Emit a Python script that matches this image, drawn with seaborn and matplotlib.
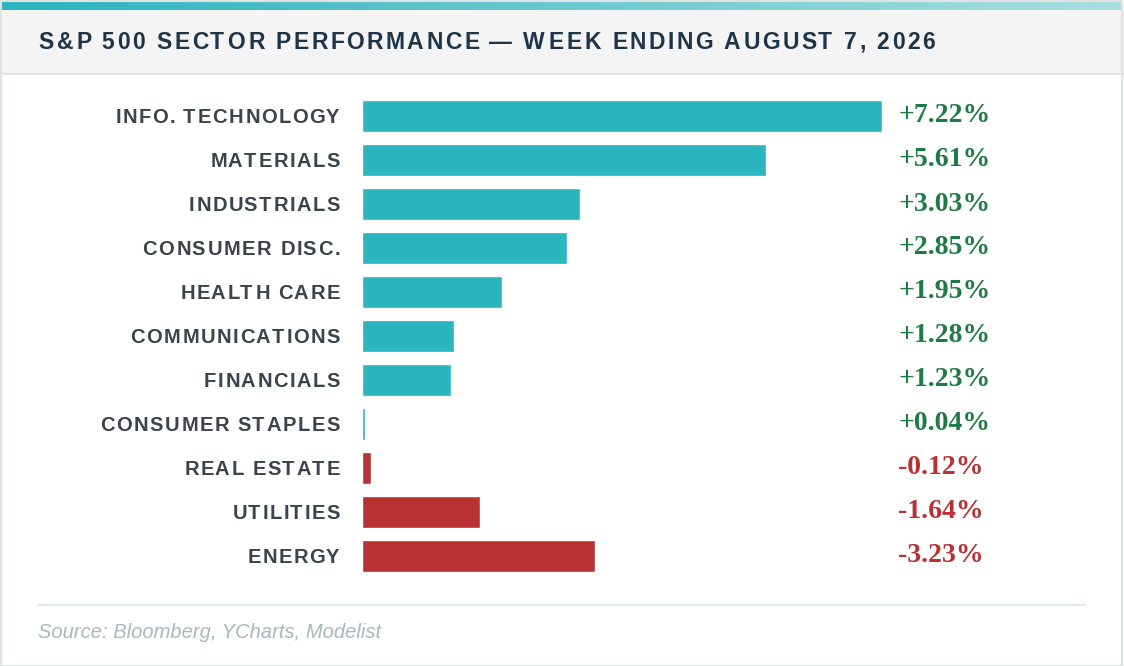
import matplotlib
matplotlib.use("Agg")
import matplotlib.pyplot as plt
import seaborn as sns
import pandas as pd
import numpy as np
from matplotlib.patches import Rectangle
from matplotlib.font_manager import FontProperties, findfont
from matplotlib.ft2font import FT2Font

# data
sectors = ["INFO. TECHNOLOGY", "MATERIALS", "INDUSTRIALS", "CONSUMER DISC.",
           "HEALTH CARE", "COMMUNICATIONS", "FINANCIALS", "CONSUMER STAPLES",
           "REAL ESTATE", "UTILITIES", "ENERGY"]
changes = [7.22, 5.61, 3.03, 2.85, 1.95, 1.28, 1.23, 0.04, -0.12, -1.64, -3.23]

title = "S&P 500 SECTOR PERFORMANCE \u2014 WEEK ENDING AUGUST 7, 2026"
source = "Source: Bloomberg, YCharts, Modelist"

TEAL = "#2ab5bf"
RED = "#b83234"
GREEN_TXT = "#1f7b45"
RED_TXT = "#b83234"

W, H = 1124, 666


def fx(x):
    return x / W


def fy(y):
    return 1 - y / H


sns.set_theme(style="white")
plt.rcParams["font.family"] = ["Liberation Sans", "DejaVu Sans"]

fig = plt.figure(figsize=(W / 100, H / 100), dpi=100)
fig.patch.set_facecolor("white")


def spaced(s, x, y, size, spacing, color, ha="left", family="Liberation Sans",
           weight="bold", style="normal"):
    # text with letter spacing, x/y in pixels (y = baseline)
    prop = FontProperties(family=family, weight=weight, style=style, size=size)
    font = FT2Font(findfont(prop))
    font.set_size(size, 100)
    glyphs = [font.load_char(ord(c)) for c in s]
    adv = [g.linearHoriAdvance / 65536 for g in glyphs]
    total = sum(adv) + spacing * (len(s) - 1)
    cx = x - total if ha == "right" else x
    for c, g, a in zip(s, glyphs, adv):
        if c != " ":
            fig.text(fx(cx + g.horiBearingX / 64), fy(y), c, fontproperties=prop,
                     color=color, ha="left", va="baseline")
        cx += a + spacing


# card background pieces
fig.patches.append(Rectangle((0, fy(75)), 1, 65 / H, transform=fig.transFigure,
                             facecolor="#f4f4f4", edgecolor="none", zorder=0))
fig.patches.append(Rectangle((0, fy(75)), 1, 2 / H, transform=fig.transFigure,
                             facecolor="#dfe6e4", edgecolor="none", zorder=1))
fig.patches.append(Rectangle((fx(38), fy(606)), fx(1086) - fx(38), 2 / H,
                             transform=fig.transFigure, facecolor="#e0e7e5",
                             edgecolor="none", zorder=1))
fig.patches.append(Rectangle((0.5 / W, 0.5 / H), 1 - 2.5 / W, 1 - 1.5 / H,
                             transform=fig.transFigure, facecolor="none",
                             edgecolor="#dde4e2", linewidth=1.6, zorder=2))

# gradient strip on top
gax = fig.add_axes([0, fy(10), 1 - 2 / W, 8 / H])
grad = np.linspace(0, 1, 256).reshape(1, -1)
cmap = matplotlib.colors.LinearSegmentedColormap.from_list("g", ["#2ab3be", "#a9dee1"])
gax.imshow(grad, aspect="auto", cmap=cmap)
gax.axis("off")

# title
spaced(title, 38, 49, 16.5, 2.45, "#1e3448")

# bars
df = pd.DataFrame({"sector": sectors, "change": changes})
df["size"] = df["change"].abs()
df["dir"] = np.where(df["change"] >= 0, "up", "down")

top, row = 94, 44
ax = fig.add_axes([fx(362), fy(top + row * len(sectors)), 576 / W, row * len(sectors) / H])
sns.barplot(data=df, x="size", y="sector", hue="dir", palette={"up": TEAL, "down": RED},
            dodge=False, legend=False, width=32 / 44, saturation=1, ax=ax, orient="h")
ax.set_xlim(0, 8)
ax.set_ylim(len(sectors) - 0.5, -0.5)
ax.axis("off")
ax.patch.set_alpha(0)

for i, (name, v) in enumerate(zip(sectors, changes)):
    cy = top + row / 2 + row * i
    spaced(name, 339, cy + 7, 14.5, 1.6, "#3c434b", ha="right")
    fig.text(fx(898), fy(cy + 6.5), f"{v:+.2f}%", family="Liberation Serif",
             weight="bold", size=20, color=GREEN_TXT if v >= 0 else RED_TXT,
             ha="left", va="baseline")

fig.text(fx(38), fy(638), source, family="Liberation Sans", style="italic",
         size=14.5, color="#a9b8bc", ha="left", va="baseline")

fig.savefig("out.png", dpi=100)
